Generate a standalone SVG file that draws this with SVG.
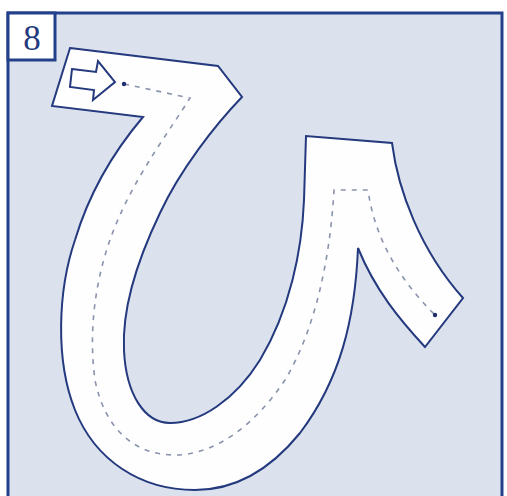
<svg xmlns="http://www.w3.org/2000/svg" width="507" height="496" viewBox="0 0 507 496">
<style>
.frame{fill:#dce2ed;stroke:#23408a;stroke-width:3}
.stroke{fill:#fefefe;stroke:#24397e;stroke-width:2;stroke-linejoin:miter}
.guide{fill:none;stroke:#8a93ad;stroke-width:1.6;stroke-dasharray:5 6}
.dot{fill:#1f2f6e}
.num{font-family:"Liberation Serif","DejaVu Serif",serif;font-size:35px;fill:#24397e}
</style>
<rect x="0" y="0" width="507" height="496" fill="#ffffff"/>
<rect class="frame" x="8" y="13" width="494" height="490"/>
<rect x="8" y="13" width="47" height="47" fill="#ffffff" stroke="#23408a" stroke-width="3"/>
<text class="num" x="32" y="50" text-anchor="middle">8</text>
<path class="stroke" d="M 70,48 L 218,66 L 242,97 C 215,125 180,170 160,213 C 135,265 122,310 124,350 C 126,395 145,423 170,423 C 200,423 235,400 260,360 C 290,310 302,250 304,200 L 306,136 L 392,143 C 398,190 420,250 463,298 L 425,347 C 400,320 375,290 358,248 C 355,320 340,380 300,433 C 270,470 235,490 195,490 C 140,490 95,460 75,410 C 55,360 58,290 75,240 C 90,190 115,150 143,117 L 52,106 Z"/>
<path class="guide" d="M 124,84 L 190,98 C 170,130 140,170 120,215 C 95,270 88,330 95,380 C 105,430 135,455 175,455 C 215,455 255,425 285,380 C 315,330 330,260 334,190 L 368,190 C 375,240 400,280 435,315"/>
<circle class="dot" cx="124" cy="84" r="2.2"/>
<circle class="dot" cx="435" cy="315" r="2.2"/>
<polygon points="72,69 96,72 98,61 115,82 93,100 94,90 70,87" fill="#ffffff" stroke="#24397e" stroke-width="2" stroke-linejoin="miter"/>
</svg>
